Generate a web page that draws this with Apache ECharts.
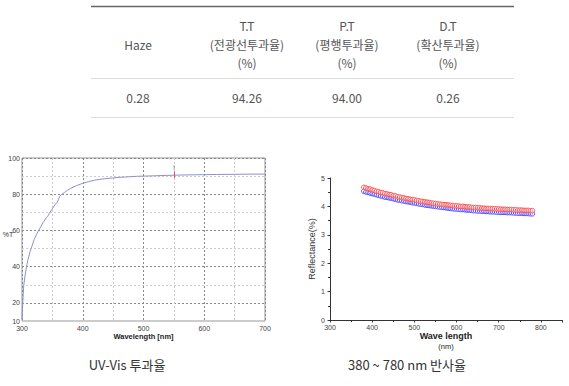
<!DOCTYPE html>
<html><head><meta charset="utf-8">
<script src="https://cdn.jsdelivr.net/npm/echarts@6/dist/echarts.min.js"></script>
<style>html,body{margin:0;padding:0;background:#fff}#c{width:569px;height:386px}</style>
</head><body><div id="c"></div>
<script>
// ---- table data ----
const tableHeaders = [
  ['Haze'],
  ['T.T', '(전광선투과율)', '(%)'],
  ['P.T', '(평행투과율)', '(%)'],
  ['D.T', '(확산투과율)', '(%)']
];
const tableValues = ['0.28', '94.26', '94.00', '0.26'];
const captions = ['UV-Vis 투과율', '380 ~ 780 nm 반사율'];

// ---- UV-Vis transmittance ----
const uvWavelength = [300,301,302,303,305,308,310,313,316,320,325,330,335,340,342,345,350,355,358,360,362,365,370,375,380,390,400,410,420,430,440,450,460,470,480,490,500,520,540,550,560,580,600,620,650,680,700];
const uvTransmit   = [11,18,25,30,35,41,44,48,51,55,58.5,61.5,64.5,67,67.6,69.5,72,74.5,75.6,77,78.8,79.8,81,82.2,83.2,84.8,86,87,87.8,88.3,88.7,89,89.3,89.5,89.7,89.9,90,90.2,90.4,90.5,90.6,90.7,90.8,90.9,91,91.1,91.1];
const uvCursor = [550, 89, 92.5];

// ---- Reflectance ----
const reflWavelength = [];
for (let w = 380; w <= 780; w += 5) reflWavelength.push(w);
const reflRed = [4.67,4.65,4.62,4.61,4.58,4.56,4.53,4.52,4.49,4.48,4.45,4.44,4.42,4.41,4.38,4.37,4.34,4.33,4.31,4.30,4.28,4.27,4.25,4.24,4.23,4.21,4.20,4.18,4.17,4.16,4.15,4.14,4.12,4.11,4.10,4.09,4.08,4.07,4.06,4.06,4.05,4.04,4.03,4.02,4.02,4.01,4.00,4.00,3.99,3.98,3.98,3.97,3.96,3.96,3.95,3.95,3.94,3.94,3.93,3.93,3.92,3.92,3.92,3.91,3.91,3.90,3.90,3.90,3.89,3.89,3.89,3.88,3.88,3.87,3.87,3.87,3.86,3.86,3.86,3.85,3.85];
const reflBlue = [4.53,4.51,4.49,4.47,4.45,4.43,4.41,4.39,4.37,4.35,4.33,4.32,4.30,4.29,4.27,4.25,4.23,4.22,4.20,4.19,4.17,4.16,4.15,4.13,4.12,4.11,4.09,4.08,4.07,4.05,4.04,4.03,4.02,4.01,4.00,3.99,3.98,3.97,3.96,3.95,3.94,3.93,3.92,3.91,3.91,3.90,3.89,3.89,3.88,3.87,3.87,3.86,3.85,3.85,3.84,3.84,3.83,3.83,3.82,3.82,3.81,3.81,3.81,3.80,3.80,3.79,3.79,3.79,3.78,3.78,3.78,3.77,3.77,3.76,3.76,3.76,3.75,3.75,3.75,3.74,3.74];

const chart = echarts.init(document.getElementById('c'), null, {renderer: 'svg'});

const KR = '"Noto Sans CJK KR", "Noto Sans", sans-serif';
const colX = [138, 247, 347, 448];
const graphics = [];
graphics.push({type:'line', shape:{x1:91,y1:6.5,x2:514,y2:6.5}, style:{stroke:'#666', lineWidth:1.3}});
graphics.push({type:'line', shape:{x1:91,y1:78.5,x2:514,y2:78.5}, style:{stroke:'#ddd', lineWidth:1}});
graphics.push({type:'line', shape:{x1:91,y1:117.5,x2:514,y2:117.5}, style:{stroke:'#ddd', lineWidth:1}});
tableHeaders.forEach((lines, i) => {
  const ys = lines.length === 1 ? [44] : [25, 44, 62];
  lines.forEach((t, j) => {
    graphics.push({type:'text', style:{text:t, x:colX[i], y:ys[j], textAlign:'center', textVerticalAlign:'middle',
      fill:'#555', font:'12px ' + KR}});
  });
});
tableValues.forEach((t, i) => {
  graphics.push({type:'text', style:{text:t, x:colX[i], y:97, textAlign:'center', textVerticalAlign:'middle',
    fill:'#555', font:'12px ' + KR}});
});
graphics.push({type:'text', style:{text:captions[0], x:127, y:364, textAlign:'center', textVerticalAlign:'middle', fill:'#333', font:'13px ' + KR}});
graphics.push({type:'text', style:{text:captions[1], x:407, y:364, textAlign:'center', textVerticalAlign:'middle', fill:'#333', font:'13px ' + KR}});
graphics.push({type:'text', style:{text:'%T', x:8, y:234, textAlign:'center', textVerticalAlign:'middle', fill:'#333', font:'7px Arial, "Liberation Sans", sans-serif'}});

const lab = {fontSize:7, color:'#444', fontFamily:'"Liberation Sans", Arial, sans-serif'};

chart.setOption({
  animation:false,
  backgroundColor:'#fff',
  graphic: graphics,
  grid:[
    {left:22, top:158, width:243, height:163, show:true, borderColor:'#999', borderWidth:1, backgroundColor:'#fff'},
    {left:330, top:178, width:232, height:142}
  ],
  xAxis:[
    {gridIndex:0, type:'value', min:300, max:700, interval:50,
      name:'Wavelength [nm]', nameLocation:'middle', nameGap:11,
      nameTextStyle:{fontSize:7.5, fontWeight:'bold', color:'#222', fontFamily:'"Liberation Sans", Arial, sans-serif'},
      axisLine:{show:false}, axisTick:{show:false},
      axisLabel:Object.assign({margin:4, formatter:v => (v % 100 === 0 ? v : '')}, lab),
      splitLine:{show:true, lineStyle:{color:['#888','#ccc'], type:[2,2], width:1}}},
    {gridIndex:1, type:'value', min:300, max:850, interval:100,
      name:'{a|Wave length}\n{b|(nm)}', nameLocation:'middle', nameGap:11,
      nameTextStyle:{rich:{a:{fontSize:9, fontWeight:'bold', color:'#222', fontFamily:'"Liberation Sans", Arial, sans-serif', lineHeight:10},
                           b:{fontSize:7.5, color:'#222', fontFamily:'"Liberation Sans", Arial, sans-serif', lineHeight:10}}},
      axisLine:{show:true, lineStyle:{color:'#333', width:1}},
      axisTick:{show:true, length:2.5, lineStyle:{color:'#333'}},
      minorTick:{show:true, splitNumber:2, length:2, lineStyle:{color:'#333'}},
      axisLabel:Object.assign({margin:4, formatter:v => (v > 800 ? '' : v)}, lab),
      splitLine:{show:false}}
  ],
  yAxis:[
    {gridIndex:0, type:'value', min:10, max:100, interval:10,
      axisLine:{show:false}, axisTick:{show:false},
      axisLabel:Object.assign({margin:2, formatter:v => ((v === 10 || v % 20 === 0) ? v : '')}, lab),
      splitLine:{show:true, lineStyle:{color:['#ccc','#888'], type:[2,2], width:1}}},
    {gridIndex:1, type:'value', min:0, max:5, interval:1,
      name:'Reflectance(%)', nameLocation:'middle', nameGap:14, nameRotate:90,
      nameTextStyle:{fontSize:9, color:'#333', fontFamily:'"Liberation Sans", Arial, sans-serif'},
      axisLine:{show:true, lineStyle:{color:'#333', width:1}},
      axisTick:{show:true, length:2.5, lineStyle:{color:'#333'}},
      minorTick:{show:true, splitNumber:2, length:2, lineStyle:{color:'#333'}},
      axisLabel:Object.assign({margin:5}, lab),
      splitLine:{show:false}}
  ],
  series:[
    {type:'line', xAxisIndex:0, yAxisIndex:0, showSymbol:false, symbol:'none',
      data: uvWavelength.map((w, i) => [w, uvTransmit[i]]),
      lineStyle:{color:'#8f8fd0', width:1}, smooth:false,
      markLine:{silent:true, symbol:'none', animation:false,
        lineStyle:{color:'#e05050', width:1, type:'solid'},
        label:{show:true, position:'end', formatter:'I', fontSize:7, color:'#7777aa', distance:1},
        data:[[{coord:[uvCursor[0], uvCursor[1]]}, {coord:[uvCursor[0], uvCursor[2]]}]]}},
    {type:'line', xAxisIndex:1, yAxisIndex:1, symbol:'circle', symbolSize:4.5,
      data: reflWavelength.map((w, i) => [w, reflBlue[i]]),
      lineStyle:{width:0, color:'#3a3ac8', opacity:0},
      itemStyle:{color:'rgba(255,255,255,0.5)', borderColor:'#4d4dff', borderWidth:1}},
    {type:'line', xAxisIndex:1, yAxisIndex:1, symbol:'circle', symbolSize:4.5,
      data: reflWavelength.map((w, i) => [w, reflRed[i]]),
      lineStyle:{width:0.8, color:'#552244', opacity:0.5},
      itemStyle:{color:'rgba(255,255,255,0.5)', borderColor:'#ff5050', borderWidth:1}}
  ]
});
</script></body></html>
